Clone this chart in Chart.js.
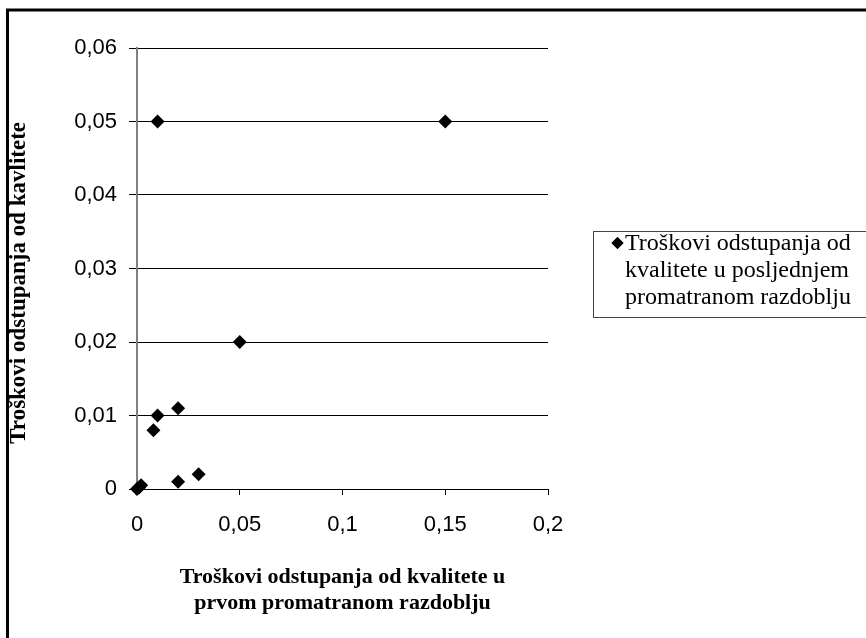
<!DOCTYPE html>
<html><head><meta charset="utf-8">
<script src="https://cdn.jsdelivr.net/npm/chart.js@4.4.0/dist/chart.umd.min.js"></script>
<style>html,body{margin:0;padding:0;background:#fff}#wrap{width:866px;height:638px;position:relative}</style>
</head><body><div id="wrap"><canvas id="c"></canvas></div>
<script>
// Data
const xValues = [0, 0.001, 0.002, 0.008, 0.01, 0.02, 0.02, 0.03, 0.05, 0.01, 0.15];
const yValues = [0, 0.0002, 0.0005, 0.008, 0.01, 0.011, 0.001, 0.002, 0.02, 0.05, 0.05];
const seriesLabel = ['Troškovi odstupanja od', 'kvalitete u posljednjem', 'promatranom razdoblju'];
const xTitle = ['Troškovi odstupanja od kvalitete u', 'prvom promatranom razdoblju'];
const yTitle = 'Troškovi odstupanja od kavlitete';
const xMin = 0, xMax = 0.2, xStep = 0.05;
const yMin = 0, yMax = 0.06, yStep = 0.01;

const points = xValues.map((x, i) => ({x: x, y: yValues[i]}));
const fmt = v => String(Number(v.toFixed(4))).replace('.', ',');

const frameAndLegend = {
  id: 'frameAndLegend',
  beforeDraw(chart) {
    const ctx = chart.ctx;
    ctx.save();
    ctx.fillStyle = '#fff';
    ctx.fillRect(0, 0, chart.width, chart.height);
    ctx.strokeStyle = '#000';
    ctx.lineWidth = 3;
    ctx.strokeRect(7.5, 10, 900, 700);
    ctx.restore();
  },
  afterDraw(chart) {
    const ctx = chart.ctx;
    ctx.save();
    ctx.strokeStyle = '#444';
    ctx.lineWidth = 1;
    ctx.strokeRect(593.5, 231.5, 300, 86);
    ctx.fillStyle = '#000';
    Chart.helpers.drawPoint(ctx, {pointStyle: 'rectRot', radius: 6, rotation: 0, borderWidth: 0}, 617.5, 243);
    ctx.fill();
    ctx.font = '24px "Liberation Serif", "Times New Roman", serif';
    ctx.textBaseline = 'alphabetic';
    ctx.textAlign = 'left';
    seriesLabel.forEach((t, i) => ctx.fillText(t, 625, 250 + i * 27));
    ctx.restore();
  }
};

new Chart(document.getElementById('c'), {
  type: 'scatter',
  data: {
    datasets: [{
      label: seriesLabel.join(' '),
      data: points,
      pointStyle: 'rectRot',
      pointRadius: 7,
      pointHoverRadius: 7,
      backgroundColor: '#000',
      borderColor: '#000',
      borderWidth: 0,
      clip: false
    }]
  },
  options: {
    responsive: true,
    maintainAspectRatio: false,
    animation: false,
    layout: {padding: {left: 0, top: 48, right: 318, bottom: 0}},
    plugins: {legend: {display: false}, tooltip: {enabled: false}},
    scales: {
      x: {
        type: 'linear', position: 'bottom', min: xMin, max: xMax,
        ticks: {stepSize: xStep, padding: 17, color: '#000', callback: v => fmt(v),
          font: {family: '"Liberation Sans", Arial, sans-serif', size: 22}},
        grid: {drawOnChartArea: false, drawTicks: true, tickLength: 6, tickColor: '#000'},
        border: {color: '#000', width: 1},
        title: {display: true, text: xTitle, color: '#000', padding: {top: 0, bottom: 22},
          font: {family: '"Liberation Serif", "Times New Roman", serif', size: 22, weight: 'bold', lineHeight: '26px'}},
        afterFit(s) { s.height = 149; }
      },
      y: {
        min: yMin, max: yMax,
        ticks: {stepSize: yStep, padding: 12, color: '#000', callback: v => fmt(v),
          font: {family: '"Liberation Sans", Arial, sans-serif', size: 22}},
        grid: {color: '#000', lineWidth: 1, drawTicks: true, tickLength: 8, tickColor: '#000'},
        border: {color: '#808080', width: 2},
        title: {display: true, text: yTitle + '\u00a0\u00a0\u00a0\u00a0\u00a0', color: '#000', padding: {top: 5, bottom: 0},
          font: {family: '"Liberation Serif", "Times New Roman", serif', size: 23, weight: 'bold', lineHeight: 1.2}},
        afterFit(s) { s.width = 137; }
      }
    }
  },
  plugins: [frameAndLegend]
});
</script>
</body></html>
